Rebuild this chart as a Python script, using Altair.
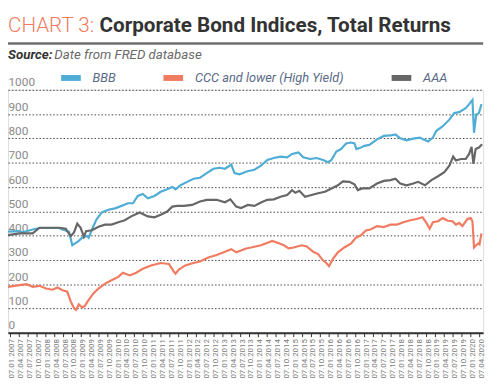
import altair as alt
import pandas as pd

FONT = "Roboto, sans-serif"

series_names = ["BBB", "CCC and lower (High Yield)", "AAA"]
series_colors = ["#4fadd5", "#f07b61", "#666666"]

bbb_dates = ["2006-12-17","2007-04-16","2007-05-19","2007-08-28","2007-11-07","2008-05-28","2008-07-01","2008-08-04","2008-09-07","2008-10-10","2008-10-28","2008-12-16","2009-01-19","2009-03-10","2009-03-28","2009-05-01","2009-06-16","2009-08-10","2009-10-16","2009-12-25","2010-01-28","2010-05-07","2010-06-28","2010-08-16","2010-10-07","2010-11-28","2011-02-04","2011-04-10","2011-06-16","2011-08-07","2011-09-10","2011-11-01","2012-01-07","2012-03-13","2012-05-19","2012-07-28","2012-10-04","2012-12-10","2013-01-31","2013-04-07","2013-05-10","2013-07-01","2013-09-20","2013-12-01","2014-02-07","2014-04-13","2014-06-19","2014-08-28","2014-11-04","2014-12-25","2015-03-01","2015-04-19","2015-06-28","2015-09-04","2015-11-10","2015-12-31","2016-02-04","2016-03-25","2016-05-13","2016-07-04","2016-08-25","2016-09-28","2016-10-19","2016-12-04","2017-01-07","2017-02-28","2017-05-19","2017-07-28","2017-10-04","2017-11-25","2018-01-13","2018-03-19","2018-05-28","2018-08-04","2018-09-07","2018-10-28","2018-12-16","2019-01-19","2019-03-28","2019-06-04","2019-07-25","2019-09-13","2019-11-19","2019-12-25","2020-01-28","2020-02-13","2020-03-07","2020-04-04","2020-04-30"]
bbb_values = [416,418,413,425,431,431,425,421,415,360,365,378,391,398,391,425,466,495,506,512,517,533,533,563,571,553,563,580,591,600,590,607,621,634,638,657,675,679,675,692,657,652,665,671,688,711,719,725,722,736,742,722,715,719,711,702,711,746,756,779,783,779,756,762,769,773,796,810,812,816,800,792,799,803,796,787,803,830,850,877,904,908,924,941,958,823,898,904,941]

aaa_dates = ["2006-12-17","2007-04-16","2007-08-28","2007-11-07","2008-05-28","2008-08-04","2008-08-19","2008-09-25","2008-10-28","2008-11-30","2009-01-04","2009-02-07","2009-03-01","2009-05-01","2009-07-07","2009-09-13","2009-11-19","2010-01-28","2010-04-04","2010-06-10","2010-09-04","2010-11-28","2011-02-04","2011-04-10","2011-06-16","2011-08-07","2011-09-28","2011-12-04","2012-02-28","2012-05-19","2012-07-28","2012-11-07","2013-01-31","2013-03-28","2013-05-28","2013-07-16","2013-09-25","2013-12-01","2014-02-07","2014-04-13","2014-06-19","2014-08-28","2014-11-04","2014-12-25","2015-01-28","2015-03-10","2015-05-07","2015-07-13","2015-09-19","2015-11-28","2016-02-04","2016-04-10","2016-05-31","2016-08-07","2016-09-28","2016-11-01","2016-12-19","2017-02-28","2017-05-19","2017-07-28","2017-10-04","2017-11-25","2018-01-13","2018-03-19","2018-05-28","2018-07-16","2018-09-25","2018-12-01","2019-02-07","2019-04-13","2019-06-04","2019-07-13","2019-08-10","2019-10-01","2019-11-19","2019-12-25","2020-01-19","2020-02-07","2020-03-01","2020-04-04","2020-05-07"]
aaa_values = [402,409,409,432,432,428,418,398,413,449,432,395,418,422,436,445,445,455,463,479,495,479,475,486,499,519,522,522,526,540,547,547,537,549,519,513,526,522,536,547,549,560,567,587,576,584,560,567,574,580,594,607,623,621,611,587,594,594,614,625,628,634,614,607,614,621,607,628,644,661,688,725,709,715,715,736,765,695,756,762,776]

ccc_dates = ["2006-12-17","2007-04-16","2007-06-25","2007-08-31","2007-11-07","2008-01-13","2008-03-19","2008-05-10","2008-07-01","2008-08-19","2008-09-25","2008-10-28","2008-11-19","2008-12-16","2009-01-19","2009-02-16","2009-03-28","2009-05-16","2009-07-07","2009-09-13","2009-11-19","2010-01-28","2010-03-16","2010-05-25","2010-07-31","2010-10-07","2010-12-31","2011-04-10","2011-07-04","2011-08-16","2011-09-10","2011-10-13","2011-12-19","2012-03-13","2012-05-19","2012-08-13","2012-11-07","2013-01-31","2013-04-07","2013-05-28","2013-07-16","2013-09-07","2013-10-28","2014-02-07","2014-06-04","2014-08-10","2014-10-01","2014-11-19","2015-01-10","2015-04-04","2015-05-25","2015-07-31","2015-09-19","2015-11-10","2015-12-13","2016-01-10","2016-02-19","2016-04-10","2016-06-16","2016-08-25","2016-10-13","2016-12-04","2017-01-25","2017-03-13","2017-05-19","2017-07-28","2017-10-04","2017-12-10","2018-02-16","2018-04-25","2018-07-01","2018-08-31","2018-10-10","2018-11-13","2018-12-16","2019-02-07","2019-03-28","2019-05-16","2019-07-07","2019-08-10","2019-09-13","2019-10-16","2019-12-07","2020-01-10","2020-01-28","2020-02-13","2020-03-01","2020-03-28","2020-04-10","2020-04-30"]
ccc_values = [189,196,200,189,193,182,177,186,175,169,128,101,94,117,104,110,135,162,182,202,216,230,247,236,247,263,277,287,283,256,243,260,277,287,293,310,320,333,344,331,338,347,351,360,378,368,360,347,351,360,355,333,324,297,287,274,304,331,351,368,391,401,421,425,439,435,445,445,455,463,468,475,452,428,455,459,472,461,459,445,452,439,468,472,459,351,358,368,364,409]

tick_years = list(range(2007, 2021))
tick_months = [1, 4, 7, 10]

title_prefix = "CHART 3:"
title_main = "Corporate Bond Indices, Total Returns"
source_label = "Source:"
source_text = "Date from FRED database"

frames = []
for name, d, v in [(series_names[0], bbb_dates, bbb_values),
                   (series_names[1], ccc_dates, ccc_values),
                   (series_names[2], aaa_dates, aaa_values)]:
    frames.append(pd.DataFrame({"date": d, "value": v, "series": name}))
df = pd.concat(frames, ignore_index=True)

tick_values = [alt.DateTime(year=y, month=m, date=7, utc=True)
               for y in tick_years for m in tick_months
               if not (y == 2020 and m > 4)]

W, H = 483, 247

lines = alt.Chart(df).mark_line(strokeWidth=2.2, interpolate="linear").encode(
    x=alt.X("date:T",
            scale=alt.Scale(type="utc",
                            domain=[alt.DateTime(year=2006, month=12, date=17, utc=True),
                                    alt.DateTime(year=2020, month=5, date=17, utc=True)]),
            axis=alt.Axis(values=tick_values, labelExpr="utcFormat(datum.value, '%d.%m.%Y')",
                          labelAngle=-90, labelFontSize=8, labelColor="#7a7a7a",
                          labelFont=FONT, labelPadding=2, labelOffset=2, tickSize=4,
                          tickColor="#333333", domainColor="#333333", domainWidth=2,
                          grid=False, title=None, labelOverlap=False, labelFlush=False,
                          labelBound=False)),
    y=alt.Y("value:Q",
            scale=alt.Scale(domain=[0, 1000], nice=False, zero=True),
            axis=alt.Axis(values=list(range(0, 1001, 100)), format="d", grid=True,
                          gridDash=[1.5, 2], gridColor="#444444", gridWidth=1,
                          domain=False, ticks=False, tickSize=0, labelAlign="left",
                          labelBaseline="alphabetic", labelPadding=0, labelOffset=-4,
                          labelFontSize=12, labelColor="#8a8a8a", labelFont=FONT,
                          title=None, labelOverlap=False)),
    color=alt.Color("series:N",
                    scale=alt.Scale(domain=series_names, range=series_colors),
                    legend=alt.Legend(orient="none", direction="horizontal",
                                      legendX=51, legendY=-25, title=None,
                                      symbolType="stroke", symbolSize=400,
                                      symbolStrokeWidth=6, labelFont=FONT,
                                      labelFontSize=13, labelFontStyle="italic",
                                      labelColor="#5a6a88", labelOffset=9,
                                      columnPadding=36, labelLimit=300)),
)

tdf = pd.DataFrame({"a": [title_prefix], "b": [title_main],
                    "c": [source_label], "d": [source_text]})

t1 = alt.Chart(tdf).mark_text(align="left", baseline="alphabetic", font=FONT,
                              fontSize=21, fontWeight=300, color="#f07b61").encode(
    x=alt.value(0), y=alt.value(-59), text="a:N")
t2 = alt.Chart(tdf).mark_text(align="left", baseline="alphabetic", font=FONT,
                              fontSize=21, fontWeight="bold", color="#333333").encode(
    x=alt.value(93), y=alt.value(-59), text="b:N")
s1 = alt.Chart(tdf).mark_text(align="left", baseline="alphabetic", font=FONT,
                              fontSize=13.5, fontWeight="bold", fontStyle="italic",
                              color="#333333").encode(
    x=alt.value(0), y=alt.value(-31), text="c:N")
s2 = alt.Chart(tdf).mark_text(align="left", baseline="alphabetic", font=FONT,
                              fontSize=13.5, fontStyle="italic", color="#6a6a6a").encode(
    x=alt.value(47), y=alt.value(-31), text="d:N")
rule = alt.Chart(tdf).mark_rule(color="#6e6e6e", strokeWidth=2.5).encode(
    x=alt.value(0), x2=alt.value(W), y=alt.value(-47))

chart = alt.layer(lines, t1, t2, s1, s2, rule).properties(
    width=W, height=H,
    autosize=alt.AutoSizeParams(type="none"),
    padding={"left": 0, "top": 80, "right": 7, "bottom": 50},
).configure_view(stroke=None).configure(background="white")

chart.save("out.html", embed_options={"renderer": "svg", "actions": False})
